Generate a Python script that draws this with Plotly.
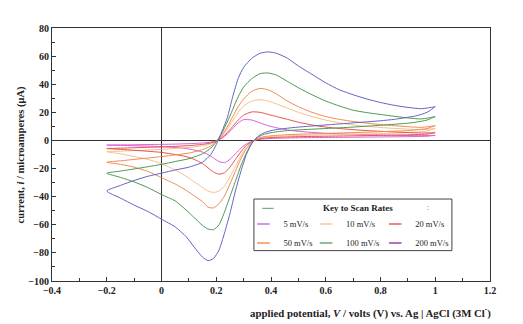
import plotly.graph_objects as go

# Potentials (V) for the forward (anodic) and reverse (cathodic) sweeps
E_fwd = [-0.2, -0.15, -0.1, -0.05, 0, 0.05, 0.1, 0.15, 0.18, 0.2, 0.22, 0.24, 0.26, 0.28, 0.3,
         0.33, 0.36, 0.39, 0.42, 0.46, 0.5, 0.55, 0.6, 0.65, 0.7, 0.75, 0.8, 0.85, 0.9, 0.95, 1.0]
E_rev = [1.0, 0.97, 0.93, 0.9, 0.85, 0.8, 0.7, 0.6, 0.5, 0.45, 0.4, 0.37, 0.35, 0.33, 0.31,
         0.29, 0.27, 0.25, 0.23, 0.21, 0.19, 0.17, 0.15, 0.12, 0.09, 0.05, 0, -0.05, -0.1, -0.15, -0.2]

# Currents (microamperes)
i5_fwd = [-3.3, -3.2, -3.1, -2.9, -2.8, -2.6, -2.3, -1.8, -1.2, -0.3, 1.5, 4.5, 8.5, 12.5, 14.8,
          14.5, 12.5, 10.5, 9, 7.5, 6.5, 5.7, 5.1, 4.7, 4.4, 4.1, 3.9, 3.7, 3.5, 3.4, 3.6]
i5_rev = [3.6, 3.0, 2.8, 2.7, 2.6, 2.5, 2.3, 2.1, 1.9, 1.7, 1.4, 1.0, 0.5, -0.6, -2.5,
          -5.5, -9.5, -13.5, -15.8, -15, -12.5, -10, -8.3, -6.8, -5.8, -5, -4.4, -4, -3.8, -3.5, -3.3]

i10_fwd = [-8, -7.6, -7.2, -6.8, -6.3, -5.7, -5, -3.8, -2.5, -0.7, 2.8, 8, 14, 20, 24.5,
           28, 29, 28, 26, 23, 20, 17, 14.5, 12.5, 11, 10, 9.2, 8.6, 8.1, 7.7, 8.5]
i10_rev = [8.5, 6.8, 6.0, 5.6, 5.2, 4.9, 4.4, 4.0, 3.5, 3.2, 2.6, 2.0, 1.0, -1.2, -5,
           -11, -18.5, -26, -32.5, -36, -37, -36, -33.5, -29.5, -25.5, -21, -16.5, -13.5, -11.5, -9.5, -8]

i20_fwd = [-5.8, -5.5, -5.2, -4.9, -4.6, -4.2, -3.7, -2.8, -1.8, -0.5, 2, 5.5, 10, 14.5, 18,
           20.3, 20, 18.5, 17, 15, 13, 11, 9.5, 8.5, 7.7, 7, 6.5, 6, 5.6, 5.3, 5.5]
i20_rev = [5.5, 4.5, 4.2, 4.0, 3.8, 3.6, 3.3, 3.0, 2.7, 2.4, 2.0, 1.5, 0.8, -1, -3.5,
           -8, -13.5, -19, -23, -24, -22.5, -19.5, -16.5, -13.5, -11.5, -10, -8.5, -7.7, -7, -6.3, -5.8]

i50_fwd = [-15.5, -14.5, -13.5, -12.5, -11.5, -10.3, -9, -6.5, -4, -1, 3.5, 9.5, 17, 24, 29.5,
           35, 37, 36, 33, 28, 24, 20, 17, 15, 13.5, 12.3, 11.3, 10.5, 9.8, 9.3, 10.5]
i50_rev = [10.5, 8.5, 7.5, 7.0, 6.6, 6.2, 5.6, 5.0, 4.4, 4.0, 3.3, 2.5, 1.2, -1.5, -6,
           -13, -22, -31, -39.5, -45, -48, -47.5, -43.5, -39.5, -35.5, -31, -26.5, -22, -19, -17, -15.5]

i100_fwd = [-23.3, -21.8, -20.3, -18.7, -17, -15, -13, -9.5, -5.5, -1, 5, 13, 22, 31, 38,
            44, 47.5, 48, 46.5, 42, 37.5, 32.5, 28, 24.5, 21.5, 19.8, 18.5, 17.2, 16, 15.3, 17]
i100_rev = [17, 14.5, 13, 12.3, 11.5, 10.8, 9.5, 8.5, 7.5, 6.8, 5.5, 4, 2, -2, -9,
            -18, -29, -40, -51, -60, -63.5, -63, -60.5, -55, -49.5, -43, -38.5, -33.5, -29.5, -26.3, -23.3]

i200_fwd = [-36, -32, -28.5, -25.5, -23.3, -21, -19, -15.5, -10, -3, 6, 16, 31, 44, 52,
            58.5, 62, 63, 62, 58.5, 53, 47, 41, 36, 32.5, 29.5, 27, 25, 23.5, 22.6, 24]
i200_rev = [24, 20, 17.5, 16.5, 15, 14, 12.5, 11, 9.5, 8.5, 7, 5, 2.5, -2, -10,
            -22, -36, -52, -66, -78, -84, -85.5, -83, -76, -68.5, -61.5, -56, -50.5, -46, -41, -36]

rates = ["5 mV/s", "10 mV/s", "20 mV/s", "50 mV/s", "100 mV/s", "200 mV/s"]
colors = ["#d860d8", "#f6c08c", "#e8524a", "#f28a52", "#4f9a52", "#6464c4"]
legend_colors = ["#d070e0", "#f8c8a0", "#e86060", "#f49060", "#6aa86a", "#a040b0"]
fwd = [i5_fwd, i10_fwd, i20_fwd, i50_fwd, i100_fwd, i200_fwd]
rev = [i5_rev, i10_rev, i20_rev, i50_rev, i100_rev, i200_rev]

legend_title = "Key to Scan Rates"
legend_ids = ["legend", "legend2", "legend3"]

SERIF = "Liberation Serif"
fig = go.Figure()

for k in range(6):
    fig.add_trace(go.Scatter(
        x=E_fwd + E_rev, y=fwd[k] + rev[k], mode="lines", name=rates[k],
        line=dict(color=colors[k], width=1, shape="spline", smoothing=0.6),
        showlegend=False))

for c in range(3):
    for r in range(2):
        k = r * 3 + c
        fig.add_trace(go.Scatter(
            x=[None], y=[None], mode="markers", name=rates[k],
            marker=dict(symbol="line-ew", size=9, color=legend_colors[k],
                        line=dict(color=legend_colors[k], width=1.5)),
            legend=legend_ids[c], legendrank=1 + r))

col_x = [0.437, 0.58, 0.738]
leg_common = dict(orientation="v", y=0.283, yanchor="top", xanchor="left",
                  bgcolor="rgba(0,0,0,0)", borderwidth=0, itemwidth=30,
                  font=dict(family=SERIF, size=8.5, color="#222"), traceorder="normal")

fig.update_layout(
    width=523, height=324,
    margin=dict(l=52, r=33, t=28, b=43),
    plot_bgcolor="white", paper_bgcolor="white",
    font=dict(family=SERIF, color="#222", size=10),
    legend=dict(x=col_x[0], **leg_common),
    legend2=dict(x=col_x[1], **leg_common),
    legend3=dict(x=col_x[2], **leg_common),
    xaxis=dict(range=[-0.4, 1.2], dtick=0.2, tick0=-0.4, ticks="inside", ticklen=4,
               tickcolor="#333", showline=True, linecolor="#333", linewidth=1, mirror=True,
               showgrid=False, zeroline=True, zerolinecolor="#333", zerolinewidth=1,
               tickfont=dict(family=SERIF, size=10, color="#222", weight="bold"),
               minor=dict(dtick=0.1, ticks="inside", ticklen=3, tickcolor="#333")),
    yaxis=dict(range=[-100, 80], dtick=20, ticks="inside", ticklen=4,
               tickcolor="#333", showline=True, linecolor="#333", linewidth=1, mirror=True,
               showgrid=False, zeroline=True, zerolinecolor="#333", zerolinewidth=1,
               tickfont=dict(family=SERIF, size=10, color="#222", weight="bold"),
               minor=dict(dtick=10, ticks="inside", ticklen=3, tickcolor="#333")),
)

# legend frame and header row
fig.add_shape(type="rect", xref="paper", yref="paper", x0=0.461, x1=0.913, y0=0.12, y1=0.324,
              line=dict(color="#444", width=1), fillcolor="white", layer="above")
fig.add_shape(type="line", xref="paper", yref="paper", x0=0.48, x1=0.506, y0=0.287, y1=0.287,
              line=dict(color="#7aae7a", width=1.2), layer="above")
fig.add_annotation(text="<b>" + legend_title + "</b>", xref="paper", yref="paper",
                   x=0.699, y=0.287, xanchor="center", yanchor="middle", showarrow=False,
                   font=dict(family=SERIF, size=9, color="#222"))
fig.add_annotation(text=":", xref="paper", yref="paper",
                   x=0.858, y=0.29, xanchor="center", yanchor="middle", showarrow=False,
                   font=dict(family=SERIF, size=8, color="#555"))

# axis titles
fig.add_annotation(text="<b>applied potential, <i>V</i> / volts (V) vs. Ag | AgCl (3M Cl<sup>-</sup>)</b>",
                   xref="paper", yref="paper", x=1.007, y=-0.123, xanchor="right", yanchor="middle",
                   showarrow=False, font=dict(family=SERIF, size=10.8, color="#222"))
fig.add_annotation(text="<b>current, <i>i</i> / microamperes (μA)</b>", textangle=-90,
                   xref="paper", yref="paper", x=-0.071, y=0.5, xanchor="center", yanchor="middle",
                   showarrow=False, font=dict(family=SERIF, size=10.5, color="#222"))

fig.write_html("out.html")
